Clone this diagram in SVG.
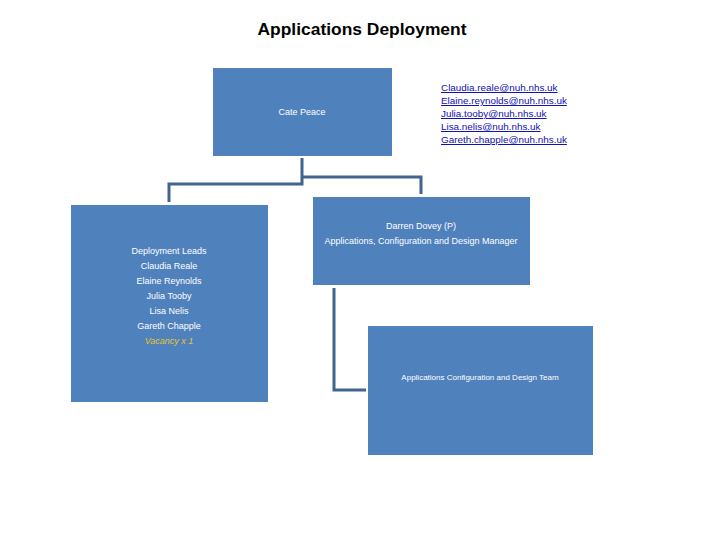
<svg xmlns="http://www.w3.org/2000/svg" width="720" height="540" viewBox="0 0 720 540">
<style>
.box{fill:#4f81bd;}
.lbl{fill:#ffffff;font-family:"Liberation Sans",Arial,sans-serif;font-size:9px;text-anchor:middle;}
.mail{fill:#1010b0;font-family:"Liberation Sans",Arial,sans-serif;font-size:9.9px;text-decoration:underline;}
.con{fill:none;stroke:#41658f;stroke-width:3;}
</style>
<rect width="720" height="540" fill="#ffffff"/>
<text x="362" y="35" font-family="Liberation Sans,Arial,sans-serif" font-weight="bold" font-size="17" text-anchor="middle" textLength="209" lengthAdjust="spacingAndGlyphs" fill="#000000">Applications Deployment</text>
<g id="connectors">
<polyline class="con" points="302,158 302,184 169,184 169,202"/>
<polyline class="con" points="302,177 421,177 421,194"/>
<polyline class="con" points="334,288 334,390 366,390"/>
</g>
<g id="cate">
<rect class="box" x="213" y="68" width="179" height="88"/>
<text class="lbl" x="302" y="115">Cate Peace</text>
</g>
<g id="emails">
<text class="mail" x="441" y="91">Claudia.reale@nuh.nhs.uk</text>
<text class="mail" x="441" y="104">Elaine.reynolds@nuh.nhs.uk</text>
<text class="mail" x="441" y="117">Julia.tooby@nuh.nhs.uk</text>
<text class="mail" x="441" y="130">Lisa.nelis@nuh.nhs.uk</text>
<text class="mail" x="441" y="143">Gareth.chapple@nuh.nhs.uk</text>
</g>
<g id="leads">
<rect class="box" x="71" y="205" width="197" height="197"/>
<text class="lbl" x="169" y="254">Deployment Leads</text>
<text class="lbl" x="169" y="269">Claudia Reale</text>
<text class="lbl" x="169" y="284">Elaine Reynolds</text>
<text class="lbl" x="169" y="299">Julia Tooby</text>
<text class="lbl" x="169" y="314">Lisa Nelis</text>
<text class="lbl" x="169" y="329">Gareth Chapple</text>
<text class="lbl" x="169" y="344" style="fill:#e8c52a;font-style:italic">Vacancy x 1</text>
</g>
<g id="darren">
<rect class="box" x="313" y="197" width="217" height="88"/>
<text class="lbl" x="421" y="229">Darren Dovey (P)</text>
<text class="lbl" x="421" y="244">Applications, Configuration and Design Manager</text>
</g>
<g id="team">
<rect class="box" x="368" y="326" width="225" height="129"/>
<text class="lbl" x="480" y="380" style="font-size:8px">Applications Configuration and Design Team</text>
</g>
</svg>
